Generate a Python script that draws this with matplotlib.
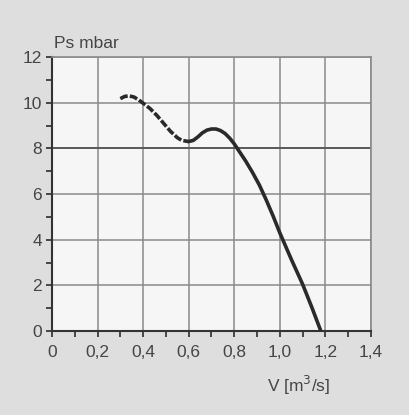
import matplotlib.pyplot as plt
from matplotlib.ticker import MultipleLocator, FuncFormatter

# fan curve, unstable part (dashed)
v_unstable = [0.30, 0.32, 0.34, 0.36, 0.38, 0.40, 0.43, 0.46, 0.49, 0.52, 0.55, 0.57, 0.60]
ps_unstable = [10.18, 10.28, 10.3, 10.25, 10.13, 9.98, 9.75, 9.45, 9.1, 8.75, 8.47, 8.35, 8.3]

# fan curve, stable part (solid)
v_stable = [0.60, 0.62, 0.64, 0.66, 0.68, 0.70, 0.72, 0.74, 0.76, 0.78, 0.80,
            0.82, 0.85, 0.88, 0.91, 0.94, 0.97, 1.00, 1.05, 1.10, 1.14, 1.18]
ps_stable = [8.3, 8.35, 8.5, 8.68, 8.8, 8.85, 8.85, 8.78, 8.65, 8.45, 8.2,
             7.9, 7.45, 6.95, 6.4, 5.75, 5.05, 4.3, 3.15, 2.05, 1.05, 0.0]

x_label = "V [m$^3$/s]"
y_label = "Ps mbar"

plt.rcParams["font.family"] = ["Liberation Sans", "DejaVu Sans"]
text_color = "#454545"

fig = plt.figure(figsize=(4.09, 4.15), dpi=100, facecolor="#dedede")
ax = fig.add_axes([0.127, 0.2024, 0.78, 0.66])
ax.set_facecolor("#f6f6f6")

ax.plot(v_unstable, ps_unstable, color="#2a2a2a", linewidth=2.6,
        dashes=(2.2, 0.6), dash_capstyle="butt", solid_capstyle="round", zorder=3)
ax.plot(v_stable, ps_stable, color="#2a2a2a", linewidth=2.6,
        solid_capstyle="round", solid_joinstyle="round", zorder=3)

ax.set_xlim(0, 1.4)
ax.set_ylim(0, 12)
ax.xaxis.set_major_locator(MultipleLocator(0.2))
ax.xaxis.set_minor_locator(MultipleLocator(0.1))
ax.yaxis.set_major_locator(MultipleLocator(2))
ax.yaxis.set_minor_locator(MultipleLocator(1))


def comma_fmt(val, pos):
    if abs(val) < 1e-9:
        return "0"
    return f"{val:.1f}".replace(".", ",")


ax.xaxis.set_major_formatter(FuncFormatter(comma_fmt))
ax.yaxis.set_major_formatter(FuncFormatter(lambda v, p: f"{v:.0f}"))

ax.grid(which="major", color="#8a8a8a", linewidth=1.1)
ax.axhline(8, color="#555555", linewidth=1.3, zorder=2)

ax.tick_params(axis="x", which="major", pad=6)
ax.tick_params(axis="y", which="major", pad=3)
ax.tick_params(axis="both", which="major", direction="out", length=4, width=1.3,
               color="#3a3a3a", labelsize=12.5, labelcolor=text_color)
ax.tick_params(axis="both", which="minor", direction="out", length=4, width=1.3,
               color="#3a3a3a")

for side in ["left", "bottom"]:
    ax.spines[side].set_color("#333333")
    ax.spines[side].set_linewidth(1.5)
for side in ["top", "right"]:
    ax.spines[side].set_color("#8a8a8a")
    ax.spines[side].set_linewidth(1.2)

fig.text(0.132, 0.878, y_label, fontsize=12.5, color=text_color, ha="left", va="bottom")
fig.text(0.73, 0.072, x_label, fontsize=12.5, color=text_color, ha="center", va="center")

fig.savefig("out.png", dpi=100, facecolor=fig.get_facecolor())
